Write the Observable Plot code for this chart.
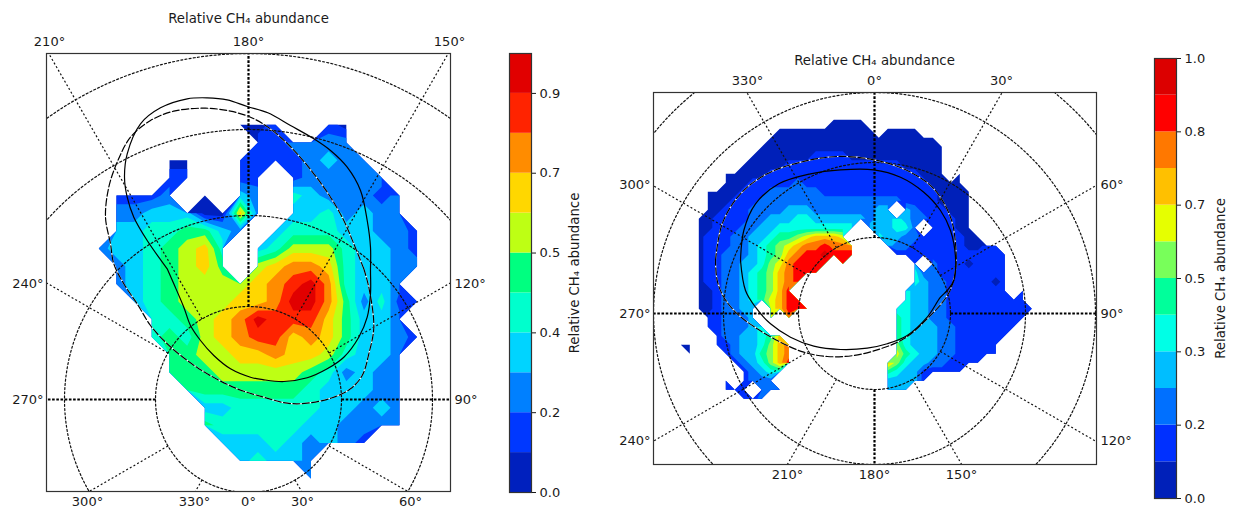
<!DOCTYPE html>
<html><head><meta charset="utf-8">
<script src="https://cdn.jsdelivr.net/npm/d3@7"></script>
<script src="https://cdn.jsdelivr.net/npm/@observablehq/plot@0.6"></script>
<style>
html,body{margin:0;padding:0;background:#fff;width:1233px;height:512px;overflow:hidden;position:relative}
svg{position:absolute;top:0;background:transparent!important}
</style></head><body>
<script>
const title = "Relative CH\u2084 abundance";
const colorsA = ["#0020be","#0038ff","#0080ff","#00d4ff","#00ffcd","#00ff80","#beff14","#ffd700","#ff8c00","#ff2300","#e10000"];
const colorsB = ["#0020b9","#0030ff","#0070ff","#00beff","#00ffe6","#00ff9b","#78ff5a","#e6ff00","#ffc000","#ff7800","#ff0000","#dc0000"];
const tickLabelsA = ["0.0","0.2","0.4","0.5","0.7","0.9"];
const tickLabelsB = ["0.0","0.2","0.3","0.5","0.7","0.8","1.0"];
const meridians = [0,30,60,90,120,150,180,210,240,270,300,330];
const radiiA = [93,184,270,346];
const radiiB = [76,151,221,285];
const noData = -1e6;

// band index of each grid node (hex digit), "." = no data
const rowsA = [
"........001..10....",
".........112222....",
"....00..11112322...",
"....11..11.122222..",
".1112.1.32.4322212.",
".223330072.3342322.",
".33445532.344433221",
"23345674.3466643321",
".2345675.6788743322",
".23456666789a84332.",
"..345666778aa852412",
"...445678a99975332.",
"...4546789978753321",
"....55667787764332.",
"....55566666542322.",
".....5555555433322.",
"......334444433232.",
"......544444332222.",
".......333432321...",
"........34332......",
"............2......"];
const rowsB = [
".................0000...................",
"...........00000000000.0000.............",
"..........0000000000000000000...........",
".........000000000000000000000..........",
"........0000000111100000000000..........",
".......00000111111111111100000..........",
".....0000011111111111111111000.0........",
".....000111112111111111111110000........",
"...000011122222211111111111110000.......",
"...000111222222222222222211110000.......",
"...001112222333222222233.32111000.......",
"..0011112233344333333233432211100.......",
"..001112233444444444.333442.11100.......",
"..01112233455678887...433221111100......",
"..01112234567899a999...3221111110011....",
"..011222345689aabaaa....1111111111111...",
"..01122334679aaaa.a.......3.211101111...",
"..01122345689aaa..........42211111111...",
"..01122345689a............43221111101...",
"..0012234568a............433221111111.1.",
"..0012234578aa...........43322111111111.",
"..0012233.78aaa.........4433221111111111",
"...112223.7.9...........543322111111111.",
"...1122234..............54333221111111..",
"....12233458............5433322111111...",
"00..112334689...........643332211111....",
".0...12335689...........754332211111....",
"......123468a..........86433221111......",
".......12344...........543311111........",
".....1.1222............33331............",
".....111.222...........333..............",
".......112.............................."];

const solidA = [[166.7,268.3],[146.7,240],[133.3,216.7],[126.7,196.7],[124,176.7],[126.7,153.3],[140,123.3],[160,107.3],[186.7,98.3],[206.7,97.3],[226.7,99.3],[246.7,106],[267.3,112.3],[290,125],[313.3,138.3],[330,150],[346.7,166.7],[360,190],[366.7,220],[370,246.7],[370,270],[370,293.3],[366.7,316.7],[358.3,336.7],[343.3,356.7],[326.7,368.3],[306.7,377.3],[283.3,381],[263.3,379.3],[250,376.7],[230,368.3],[213.3,355],[200,340],[190,325],[183.3,306.7],[173.3,283.3]];
const dashedA = [[363.3,268.3],[368.3,286.7],[373.3,326.7],[368.3,353.3],[361.7,375],[350,388.3],[331.7,397.3],[306.7,402.7],[286.7,402.7],[263.3,396.7],[236.7,388.3],[206.7,373.3],[186.7,360],[166.7,343.3],[150,325],[136.7,303.3],[123.3,283.3],[113.3,263.3],[110,243.3],[105,216.7],[108.3,186.7],[116.7,161.7],[130,136.7],[150,120],[173.3,110.7],[205,107.7],[230,110.7],[250,116.7],[265,125],[280,136.7],[296.7,153.3],[313.3,173.3],[330,196.7],[343.3,220],[353.3,243.3]];
const solidB = [[740,260],[743.3,230],[755,203.3],[778.3,183.3],[810,173.3],[840,169.3],[873.3,169.3],[900,176.7],[923.3,191.7],[940,210],[950,230],[955,256.7],[953.3,280],[946.7,290],[940,296.7],[926.7,316.7],[906.7,335],[886.7,343.3],[866.7,347.7],[840,349],[813.3,345.7],[790,336.7],[770,323.3],[755,306.7],[745,290]];
const dashedB = [[715,260],[721.7,223.3],[740,193.3],[766.7,173.3],[800,161.7],[836.7,156],[873.3,159.3],[906.7,170],[933.3,188.3],[950,216.7],[955,243.3],[955,270],[948,293],[926.7,318.3],[903.3,338.3],[880,348.3],[853.3,355],[826.7,356],[803.3,351.7],[780,341.7],[756.7,328.3],[736.7,313.3],[723.3,296.7],[716.7,280]];

const panelA = {
  left:0, width:500, frame:[46,450,53,491], pole:[248,399], radii:radiiA, rows:rowsA, colors:colorsA,
  grid:{x0:98.3,y0:124.3,step:17.68}, solid:solidA, dashed:dashedA,
  title:{x:248,y:18},
  bottom:[[87,"300°"],[194,"330°"],[248,"0°"],[302,"30°"],[410,"60°"]],
  top:[[49,"210°"],[248,"180°"],[449,"150°"]],
  leftT:[[283,"240°"],[399,"270°"]], rightT:[[283,"120°"],[399,"90°"]]
};
const panelB = {
  left:610, width:535, frame:[653,1096,92,464], pole:[874,313], radii:radiiB, rows:rowsB, colors:colorsB,
  grid:{x0:680.3,y0:119.3,step:9}, solid:solidB, dashed:dashedB,
  title:{x:874,y:60},
  bottom:[[787,"210°"],[874,"180°"],[961,"150°"]],
  top:[[747,"330°"],[874,"0°"],[1001,"30°"]],
  leftT:[[184,"300°"],[313,"270°"],[440,"240°"]], rightT:[[184,"60°"],[313,"90°"],[440,"120°"]]
};

const font = "DejaVu Sans";
const deg = Math.PI/180;

function panel(p){
  const [fx1,fx2,fy1,fy2] = p.frame;
  const n = p.colors.length;
  const levels = d3.range(n).map(i=>i/n);
  const cols = p.rows[0].length, nr = p.rows.length;
  const W = cols+2, H = nr+2, st = p.grid.step;
  const vals = new Array(W*H).fill(noData);
  p.rows.forEach((r,j)=>{ for(let i=0;i<cols;i++){ const ch=r[i]; if(ch && ch!=="."){ vals[(j+1)*W+i+1]=(parseInt(ch,16)+0.5)/n; } } });
  const x1 = p.grid.x0-1.5*st, y1 = p.grid.y0-1.5*st;
  const [px,py] = p.pole;
  const circles = p.radii.flatMap((r,k)=>d3.range(0,361,1).map(a=>({x:px+r*Math.cos(a*deg),y:py+r*Math.sin(a*deg),k})));
  const spokes = meridians.map(m=>({x1:px+p.radii[0]*Math.sin(m*deg),y1:py-p.radii[0]*Math.cos(m*deg),x2:px+800*Math.sin(m*deg),y2:py-800*Math.cos(m*deg),m}));
  const closed = a=>[...a,a[0]];
  const tick = (T)=>({ticks:T.map(d=>d[0]),tickFormat:(d,i)=>T[i][1],tickSize:0,label:null,fontSize:13});
  const svg = Plot.plot({
    width:p.width,height:512,
    marginLeft:fx1-p.left,marginRight:p.left+p.width-fx2,marginTop:fy1,marginBottom:512-fy2,
    style:{fontFamily:font,fontSize:"13px",background:"none",color:"#1a1a1a"},
    x:{domain:[fx1,fx2],axis:null},
    y:{domain:[fy2,fy1],axis:null},
    color:{type:"threshold",domain:levels.slice(1),range:p.colors},
    marks:[
      Plot.contour(vals,{x1:x1,x2:x1+W*st,y1:y1,y2:y1+H*st,width:W,height:H,fill:Plot.identity,thresholds:levels,clip:true}),
      Plot.line(circles,{x:"x",y:"y",z:"k",stroke:"#111",strokeWidth:1.2,strokeDasharray:"2 2.2",clip:true}),
      Plot.link(spokes.filter(d=>d.m%90!==0),{x1:"x1",y1:"y1",x2:"x2",y2:"y2",stroke:"#111",strokeWidth:1.2,strokeDasharray:"2 2.2",clip:true}),
      Plot.link(spokes.filter(d=>d.m%90===0),{x1:"x1",y1:"y1",x2:"x2",y2:"y2",stroke:"#000",strokeWidth:2.2,strokeDasharray:"2.6 1.6",clip:true}),
      Plot.line(closed(p.dashed),{x:d=>d[0],y:d=>d[1],curve:"catmull-rom",stroke:"#fff",strokeWidth:1.2,clip:true}),
      Plot.line(closed(p.dashed),{x:d=>d[0],y:d=>d[1],curve:"catmull-rom",stroke:"#000",strokeWidth:1.2,strokeDasharray:"7 2.5",clip:true}),
      Plot.line(closed(p.solid),{x:d=>d[0],y:d=>d[1],curve:"catmull-rom",stroke:"#000",strokeWidth:1.2,clip:true}),
      Plot.frame({stroke:"#333",strokeWidth:1.2}),
      Plot.axisX({anchor:"bottom",tickPadding:5,...tick(p.bottom)}),
      Plot.axisX({anchor:"top",tickPadding:8,...tick(p.top)}),
      Plot.axisY({anchor:"left",tickPadding:3,...tick(p.leftT)}),
      Plot.axisY({anchor:"right",tickPadding:4,...tick(p.rightT)}),
      Plot.text([{x:p.title.x,y:p.title.y,t:title}],{x:"x",y:"y",text:"t",fontSize:13.3,fill:"#1a1a1a"})
    ]
  });
  svg.style.left = p.left+"px";
  document.body.appendChild(svg);
}

function bar(left,width,top,bottom,colors,labels,dx){
  const n = colors.length;
  const bands = colors.map((c,i)=>({y1:i/n,y2:(i+1)/n,c}));
  const ticks = d3.range(0,n+1,2).map(i=>i/n);
  const svg = Plot.plot({
    width,height:512,marginLeft:9,marginRight:width-31,marginTop:top,marginBottom:512-bottom,
    style:{fontFamily:font,fontSize:"13px",background:"none",color:"#1a1a1a"},
    x:{domain:[0,1],axis:null},y:{domain:[0,1],axis:null},
    marks:[
      Plot.rect(bands,{x1:0,x2:1,y1:"y1",y2:"y2",fill:"c"}),
      Plot.frame({stroke:"#333",strokeWidth:1.2}),
      Plot.axisY({anchor:"right",ticks,tickFormat:(d,i)=>labels[i],tickSize:4,tickPadding:4,label:null,fontSize:13}),
      Plot.text([title],{frameAnchor:"right",textAnchor:"middle",dx,rotate:-90,fontSize:13.3,fill:"#1a1a1a"})
    ]
  });
  svg.style.left = left+"px";
  document.body.appendChild(svg);
}

panel(panelA);
bar(500,110,53,492,colorsA,tickLabelsA,43);
panel(panelB);
bar(1145,88,58,498,colorsB,tickLabelsB,44);
</script>
</body></html>
